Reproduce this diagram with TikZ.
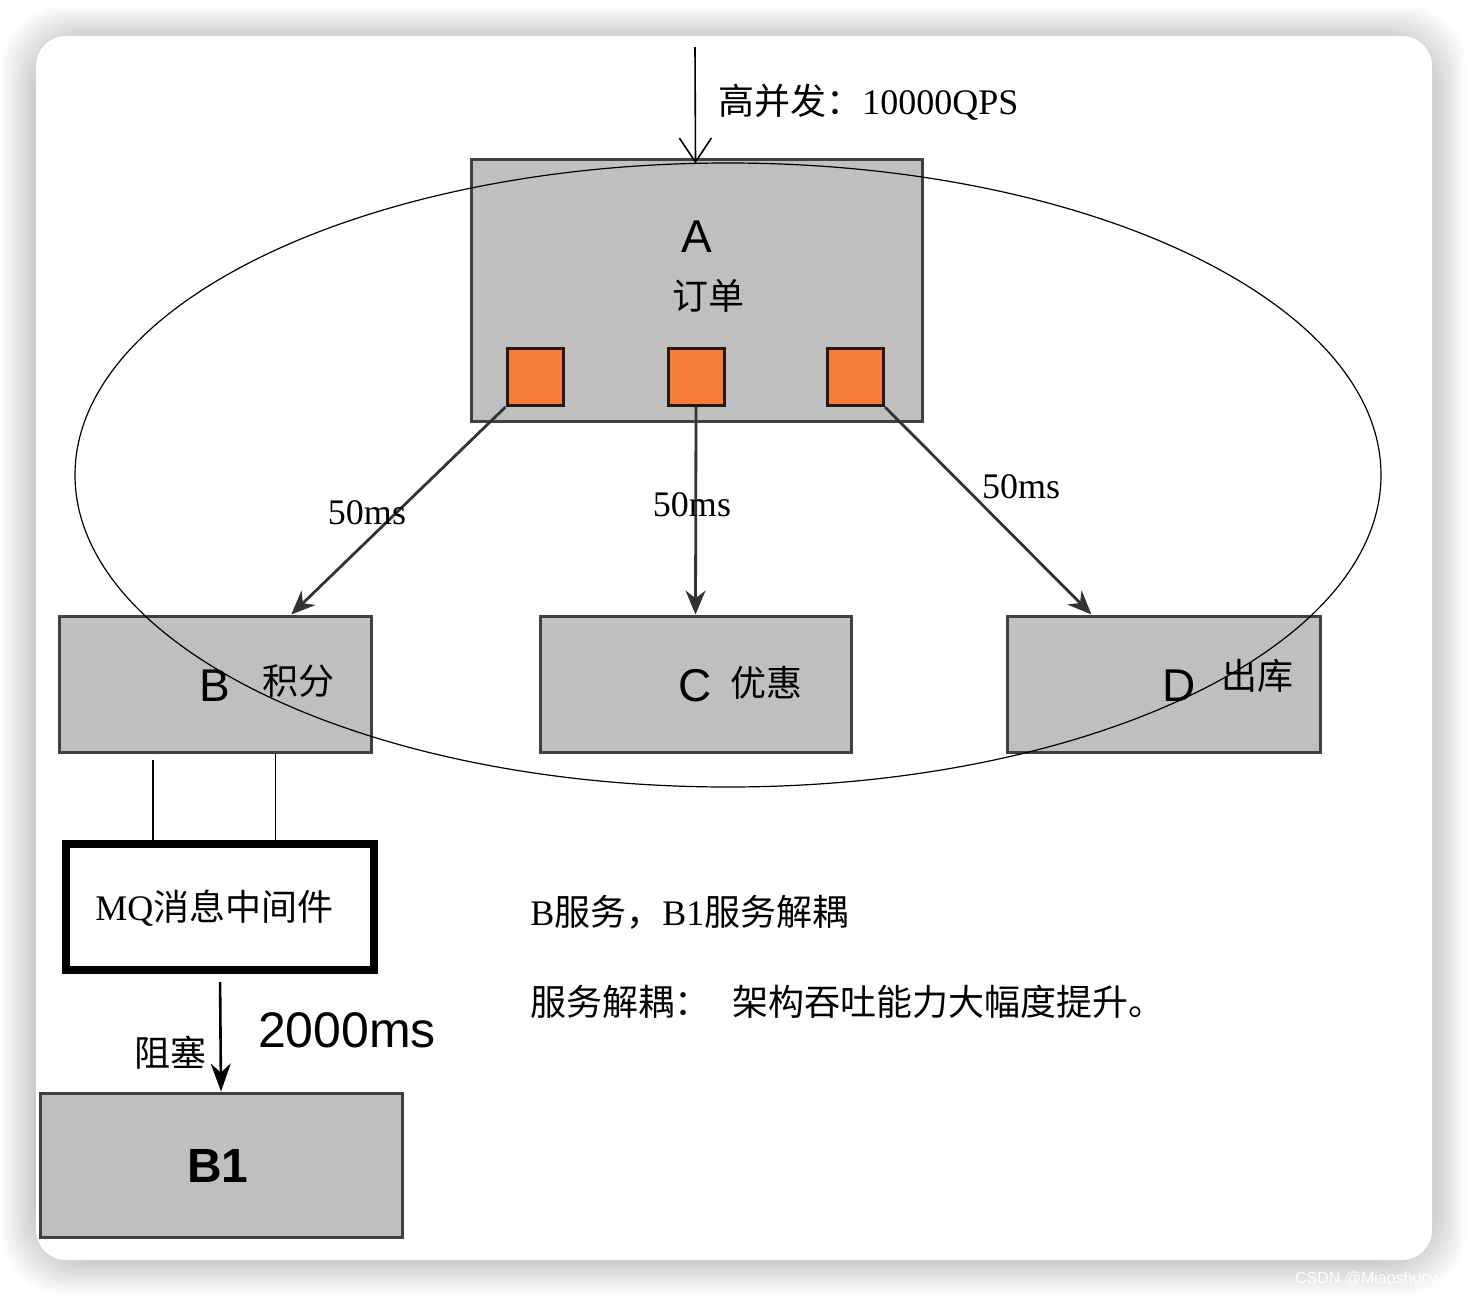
\documentclass[tikz,border=0pt]{standalone}
\usepackage{fontspec}
\setmainfont{Liberation Serif}
\newfontfamily\cjk{Noto Sans CJK SC}
\newfontfamily\lab{Liberation Sans}
\usetikzlibrary{arrows.meta,calc}
\begin{document}
\begin{tikzpicture}[x=0.5pt,y=-0.5pt,
  box/.style={draw=black!75,line width=1.5pt,fill=black!25,inner sep=0pt},
  sq/.style={draw=black!80!brown,line width=1.5pt,fill={rgb,255:red,245;green,126;blue,58},inner sep=0pt,minimum width=28pt,minimum height=28.5pt},
  conn/.style={draw=black!80,line width=1.4pt,-{Stealth[length=12pt,width=10pt]}},
  zh/.style={font=\cjk\fontsize{18pt}{20pt}\selectfont},
  ms/.style={font=\fontsize{18pt}{20pt}\selectfont},
  big/.style={font=\lab\fontsize{23pt}{25pt}\selectfont}]
\useasboundingbox (0,0) rectangle (1468,1296);
\fill[white] (0,0) rectangle (1468,1296);
% soft shadow
\foreach \i in {0,...,17}{
  \fill[black,opacity=0.011,rounded corners=30pt] ({36-34+2*\i},{36-30+2*\i}) rectangle ({1432+34-2*\i},{1260+34-2*\i});
}
\fill[white,rounded corners=15pt] (36,36) rectangle (1432,1260);
\node[font=\lab\fontsize{8pt}{9pt}\selectfont,text=white,anchor=west] (wm) at (1288,1279) {CSDN @Miaoshuowen};

% Box A
\node[box,minimum width=225.5pt,minimum height=131pt] (A) at (696.5,290) {};
\node[big] (Al) at (697,237) {A};
\node[zh] (Ad) at (708,296) {订单};
\node[sq] (s1) at (535,377) {};
\node[sq] (s2) at (696,377) {};
\node[sq] (s3) at (855.5,377) {};

% top incoming arrow
\coordinate (in) at (695,47);
\draw[line width=0.8pt,-{Straight Barb[length=12pt,width=16pt]}] (in) -- ($(A.north)+(-1,6)$);
\node[zh,anchor=west,inner sep=0pt] (qps) at (718,102) {高并发：\rmfamily 10000QPS};

% lower boxes
\node[box,minimum width=156pt,minimum height=68pt] (B) at (215,684) {};
\node[big] (Bl) at (215,686) {B};
\node[zh] (Bd) at (298,681) {积分};
\node[box,minimum width=155.5pt,minimum height=68pt] (C) at (695.5,684) {};
\node[big] (Cl) at (695,686) {C};
\node[zh] (Cd) at (766,683) {优惠};
\node[box,minimum width=156.5pt,minimum height=68pt] (D) at (1163.5,684) {};
\node[big] (Dl) at (1179,686) {D};
\node[zh] (Dd) at (1257,676) {出库};

% arrows A -> B, C, D
\draw[conn] (s1.south west) -- ($(B.north west)!0.742!(B.north east)$);
\draw[conn] (s2.south) -- (C.north);
\draw[conn] (s3.south east) -- ($(D.north west)!0.272!(D.north east)$);
\node[ms] (l1) at (367,513) {50ms};
\node[ms] (l2) at (692,505) {50ms};
\node[ms] (l3) at (1021,487) {50ms};

% ellipse
\draw[line width=0.6pt] (728,475) ellipse [x radius=653, y radius=312];

% MQ
\node[draw=black,line width=4pt,fill=white,minimum width=154pt,minimum height=63pt] (MQ) at (220,907) {};
\node[zh,anchor=west,inner sep=0pt] (MQt) at (95,908) {\rmfamily MQ\cjk 消息中间件};
\coordinate (b1) at ($(B.south west)!0.304!(B.south east)$);
\coordinate (b2) at ($(B.south west)!0.692!(B.south east)$);
\draw[line width=0.8pt] ($(b1)+(0,6)$) -- (b1 |- MQ.north);
\draw[line width=0.8pt] (b2) -- (b2 |- MQ.north);

% B1
\node[box,minimum width=181pt,minimum height=72pt] (B1) at (221,1165) {};
\node[font=\lab\bfseries\fontsize{24pt}{26pt}\selectfont] (B1l) at (218,1166) {B1};
\draw[line width=1.3pt,-{Stealth[length=14pt,width=10pt]},shorten <=4pt] (MQ.south) -- (B1.north);
\node[font=\lab\fontsize{25pt}{27pt}\selectfont] (t2000) at (347,1030) {2000ms};
\node[zh] (zs) at (170,1053) {阻塞};

% notes
\node[zh,anchor=west,inner sep=0pt] (n1) at (530,912) {\rmfamily B\cjk 服务，\rmfamily B1\cjk 服务解耦};
\node[zh,anchor=west,inner sep=0pt] (n2) at (530,1002) {服务解耦：\hspace{0.6em}架构吞吐能力大幅度提升。};
\end{tikzpicture}
\end{document}
